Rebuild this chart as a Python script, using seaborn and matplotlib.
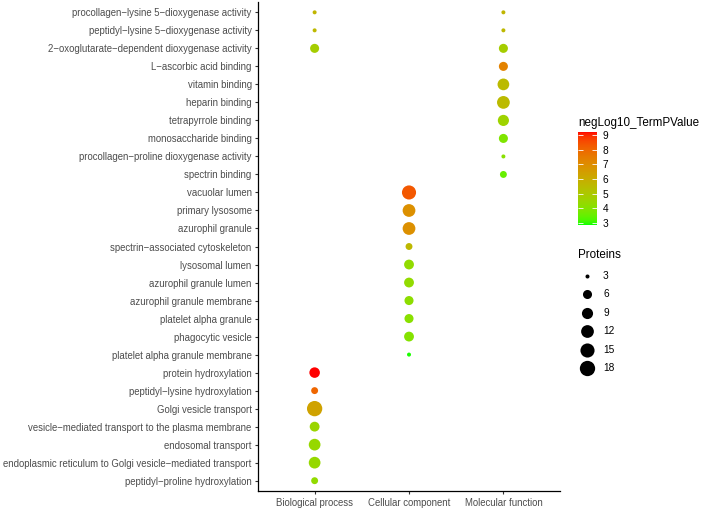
import numpy as np
import pandas as pd
import seaborn as sns
import matplotlib
matplotlib.use("Agg")
import matplotlib.pyplot as plt
from matplotlib.colors import ListedColormap, Normalize
from matplotlib.lines import Line2D

# --- dados (ordem de cima para baixo) ---
termos = [
    "procollagen\u2212lysine 5\u2212dioxygenase activity",
    "peptidyl\u2212lysine 5\u2212dioxygenase activity",
    "2\u2212oxoglutarate\u2212dependent dioxygenase activity",
    "L\u2212ascorbic acid binding",
    "vitamin binding",
    "heparin binding",
    "tetrapyrrole binding",
    "monosaccharide binding",
    "procollagen\u2212proline dioxygenase activity",
    "spectrin binding",
    "vacuolar lumen",
    "primary lysosome",
    "azurophil granule",
    "spectrin\u2212associated cytoskeleton",
    "lysosomal lumen",
    "azurophil granule lumen",
    "azurophil granule membrane",
    "platelet alpha granule",
    "phagocytic vesicle",
    "platelet alpha granule membrane",
    "protein hydroxylation",
    "peptidyl\u2212lysine hydroxylation",
    "Golgi vesicle transport",
    "vesicle\u2212mediated transport to the plasma membrane",
    "endosomal transport",
    "endoplasmic reticulum to Golgi vesicle\u2212mediated transport",
    "peptidyl\u2212proline hydroxylation",
]
categorias = ["Biological process", "Cellular component", "Molecular function"]

# pontos: termo, categoria, proteinas, -log10 p
ponto_termo = [0, 1, 2, 0, 1, 2, 3, 4, 5, 6, 7, 8, 9,
               10, 11, 12, 13, 14, 15, 16, 17, 18, 19,
               20, 21, 22, 23, 24, 25, 26]
ponto_cat = [0, 0, 0, 2, 2, 2, 2, 2, 2, 2, 2, 2, 2,
             1, 1, 1, 1, 1, 1, 1, 1, 1, 1,
             0, 0, 0, 0, 0, 0, 0]
proteinas = [3, 3, 6, 3, 3, 6, 6, 10, 12, 9, 6, 3, 4,
             15, 12, 12, 4, 7, 7, 6, 6, 7, 3,
             8, 4, 18, 7, 10, 10, 4]
neglog = [5.7, 5.6, 4.8, 5.7, 5.6, 4.8, 7.3, 5.5, 5.5, 4.6, 3.9, 4.1, 3.5,
          8.3, 6.9, 6.9, 5.6, 4.3, 4.3, 4.2, 4.1, 4.0, 2.9,
          9.2, 8.0, 6.3, 4.5, 4.4, 4.4, 4.3]
legenda_prot = [3, 6, 9, 12, 15, 18]
ticks_cor = [3, 4, 5, 6, 7, 8, 9]
lim_cor = (2.85, 9.2)
lim_prot = (3, 18)


# escala de tamanho tipo ggplot (diametro ~ raiz)
def diametro_pt(v):
    t = (v - lim_prot[0]) / (lim_prot[1] - lim_prot[0])
    return (4 + 11.3 * np.sqrt(t)) * 0.72


tamanhos = {v: diametro_pt(v) ** 2 for v in sorted(set(proteinas) | set(legenda_prot))}

df = pd.DataFrame({
    "termo": pd.Categorical([termos[i] for i in ponto_termo], categories=termos),
    "categoria": pd.Categorical([categorias[i] for i in ponto_cat], categories=categorias),
    "Proteins": proteinas,
    "negLog10_TermPValue": neglog,
})


# gradiente verde -> vermelho interpolado em Lab (como o ggplot)
def srgb_para_lab(c):
    c = np.asarray(c, float)
    lin = np.where(c <= 0.04045, c / 12.92, ((c + 0.055) / 1.055) ** 2.4)
    M = np.array([[0.4124, 0.3576, 0.1805],
                  [0.2126, 0.7152, 0.0722],
                  [0.0193, 0.1192, 0.9505]])
    xyz = M @ lin / np.array([0.95047, 1.0, 1.08883])
    f = np.where(xyz > 0.008856, np.cbrt(xyz), 7.787 * xyz + 16 / 116)
    return np.array([116 * f[1] - 16, 500 * (f[0] - f[1]), 200 * (f[1] - f[2])])


def lab_para_srgb(lab):
    L, a, b = lab
    fy = (L + 16) / 116
    fx = fy + a / 500
    fz = fy - b / 200
    f = np.array([fx, fy, fz])
    xyz = np.where(f ** 3 > 0.008856, f ** 3, (f - 16 / 116) / 7.787)
    xyz = xyz * np.array([0.95047, 1.0, 1.08883])
    Minv = np.array([[3.2406, -1.5372, -0.4986],
                     [-0.9689, 1.8758, 0.0415],
                     [0.0557, -0.2040, 1.0570]])
    lin = Minv @ xyz
    c = np.where(lin <= 0.0031308, 12.92 * lin, 1.055 * np.clip(lin, 0, None) ** (1 / 2.4) - 0.055)
    return np.clip(c, 0, 1)


lab_baixo = srgb_para_lab([0, 1, 0])
lab_alto = srgb_para_lab([1, 0, 0])
cores = [lab_para_srgb(lab_baixo + t * (lab_alto - lab_baixo)) for t in np.linspace(0, 1, 256)]
cmap = ListedColormap(cores)

plt.rcParams["font.family"] = ["Liberation Sans", "DejaVu Sans"]

fig = plt.figure(figsize=(7.08, 5.09), dpi=100)
ax = fig.add_axes([0.3644, 0.0344, 0.4266, 0.9626])

sns.scatterplot(data=df, x="categoria", y="termo", hue="negLog10_TermPValue",
                size="Proteins", palette=cmap, hue_norm=lim_cor,
                sizes=tamanhos, linewidth=0, legend=False, ax=ax)

ax.set_xlim(-0.6, 2.6)
ax.set_ylim(len(termos) - 0.4, -0.6)
ax.set_xlabel("")
ax.set_ylabel("")
for s in ["top", "right"]:
    ax.spines[s].set_visible(False)
for s in ["left", "bottom"]:
    ax.spines[s].set_linewidth(0.9)
    ax.spines[s].set_color("black")
ax.tick_params(axis="both", labelsize=6.9, labelcolor="#4D4D4D", color="#333333",
               length=2.5, width=0.8, pad=2)
ax.grid(False)

# barra de cores
cax = fig.add_axes([578 / 708, 1 - 225 / 509, 19 / 708, 93 / 509])
sm = plt.cm.ScalarMappable(norm=Normalize(*lim_cor), cmap=cmap)
cb = fig.colorbar(sm, cax=cax, ticks=ticks_cor)
cb.outline.set_visible(False)
cax.tick_params(axis="y", which="both", direction="in", color="white", length=3.5,
                width=0.6, left=True, right=True, labelsize=7.3, pad=4)
fig.text(578 / 708, 1 - 123 / 509, "negLog10_TermPValue", fontsize=8.4, va="center", ha="left")

# legenda de tamanho
fig.text(578 / 708, 1 - 255 / 509, "Proteins", fontsize=8.4, va="center", ha="left")
for i, v in enumerate(legenda_prot):
    yy = 1 - (276 + 18.4 * i) / 509
    fig.add_artist(Line2D([587 / 708], [yy], marker="o", markersize=diametro_pt(v),
                          color="black", markeredgewidth=0, linestyle="none",
                          transform=fig.transFigure))
    fig.text(603 / 708, yy, str(v), fontsize=7.3, va="center", ha="left")

plt.savefig("out.png", dpi=100)
plt.close()
